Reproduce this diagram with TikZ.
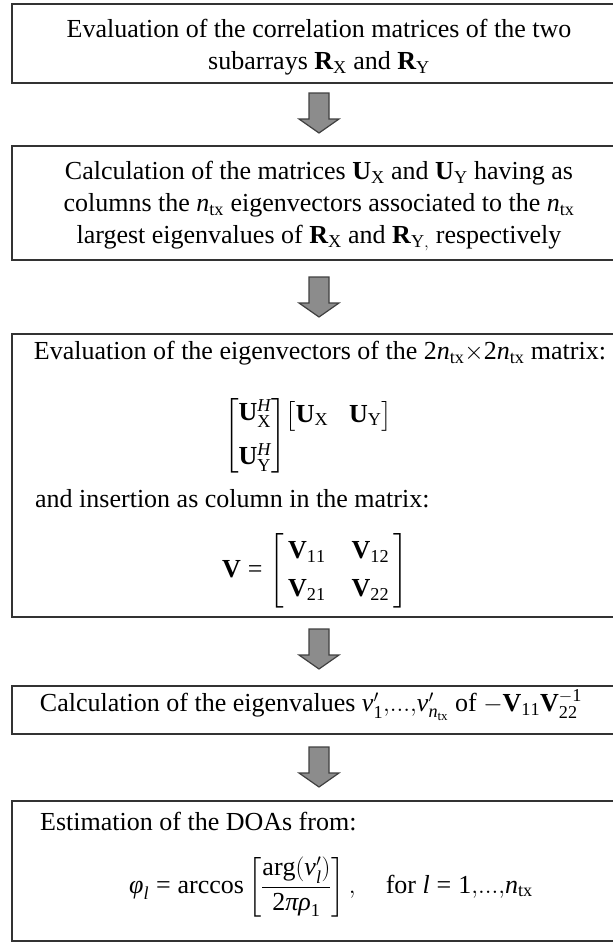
\documentclass[tikz,border=0pt]{standalone}
\usepackage{amsmath}
\usepackage{fontspec}
\setmainfont{Liberation Serif}
\newcommand{\gk}[1]{\mbox{\itshape #1}}
\newcommand{\bv}[1]{\mathbf{#1}}
\newcommand{\rs}[1]{\mathrm{#1}}
\newcommand{\ntx}{\mathit{n}_{\mathrm{tx}}}
\newcommand{\eqs}{\mathrel{\mbox{=}}}
\tikzset{
  box/.style={draw=black!80, line width=1.5pt, rectangle, inner sep=0pt, anchor=north west},
  txt/.style={font=\fontsize{26}{32}\selectfont, inner sep=0pt, align=center},
  blockarrow/.style={draw=black!75, fill=black!45, line width=1.2pt, line join=miter},
  pics/downarrow/.style={code={\draw[blockarrow] (-10,0) -- (10,0) -- (10,26) -- (20,26) -- (0,40) -- (-20,26) -- (-10,26) -- cycle;}}
}
\begin{document}
\begin{tikzpicture}[x=1pt,y=-1pt]
\useasboundingbox (0,0) rectangle (613,943);
\clip (0,0) rectangle (613,943);
% boxes
\node[box, minimum width=605pt, minimum height=79pt] (b1) at (11,3) {};
\node[box, minimum width=605pt, minimum height=114pt] (b2) at (11,145) {};
\node[box, minimum width=605pt, minimum height=283pt] (b3) at (11,333) {};
\node[box, minimum width=605pt, minimum height=48pt] (b4) at (11,685) {};
\node[box, minimum width=605pt, minimum height=140pt] (b5) at (11,800) {};
% arrows
\pic at (319,93) {downarrow};
\pic at (319,277) {downarrow};
\pic at (319,629) {downarrow};
\pic at (319,747) {downarrow};
% texts
\node[txt] (t1) at (319,47) {Evaluation of the correlation matrices of the two\\ subarrays $\bv{R}_{\rs{X}}$ and $\bv{R}_{\rs{Y}}$};
\node[txt] (t2) at (319,206) {Calculation of the matrices $\bv{U}_{\rs X}$ and $\bv{U}_{\rs Y}$ having as\\ columns the $\ntx$ eigenvectors associated to the $\ntx$\\ largest eigenvalues of $\bv{R}_{\rs X}$ and $\bv{R}_{\rs{Y},}$ respectively};
\node[txt, anchor=mid] (t3a) at (320,357) {Evaluation of the eigenvectors of the $\rs{2}\ntx{\times}\rs{2}\ntx$ matrix:};
\node[txt] (t3b) at (308,436) {$\begin{bmatrix}\bv{U}_{\rs X}^{\mathit{H}}\\[12pt] \bv{U}_{\rs Y}^{\mathit{H}}\end{bmatrix}\!\raisebox{20pt}{$\left[\vphantom{\bv{U}_{\rs X}^{\mathit{H}}}\bv{U}_{\rs X}\;\;\;\bv{U}_{\rs Y}\right]$}$};
\node[txt, anchor=mid west] (t3c) at (35,505) {and insertion as column in the matrix:};
\node[txt] (t3d) at (315,571) {$\bv{V}\eqs\left[\begin{array}{@{\,}c@{\hspace{26pt}}c@{\,}}\bv{V}_{\rs{11}} & \bv{V}_{\rs{12}}\\[6pt] \bv{V}_{\rs{21}} & \bv{V}_{\rs{22}}\end{array}\right]$};
\node[txt, anchor=mid] (t4) at (311,709) {Calculation of the eigenvalues $\gk{ν}'_{\rs 1}{,}...{,}\gk{ν}'_{\ntx}$ of $-\bv{V}_{\rs{11}}\bv{V}_{\rs{22}}^{-\rs{1}}$};
\node[txt, anchor=mid west] (t5a) at (40,828) {Estimation of the DOAs from:};
\node[txt] (t5b) at (331,887) {$\gk{φ}_{\mathit l}\eqs\operatorname{arccos}\left[\dfrac{\operatorname{arg}(\gk{ν}'_{\mathit l})}{\rs{2}\gk{πρ}_{\rs 1}}\right],\quad \text{for }\mathit{l}\eqs\rs{1}{,}...{,}\ntx$};
\end{tikzpicture}
\end{document}
